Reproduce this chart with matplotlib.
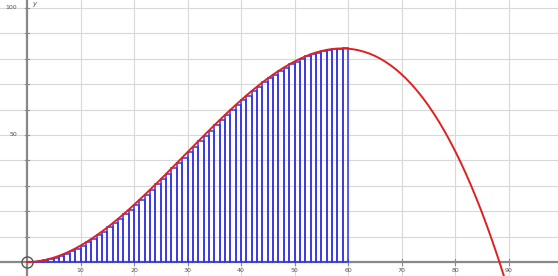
import numpy as np
from matplotlib import pyplot as plt

# red curve at every integer x from 0 to 90
curve_x = list(range(0, 91))
curve_y = [0.0, 0.07, 0.28, 0.63, 1.11, 1.72, 2.44, 3.28, 4.24, 5.29,
           6.45, 7.71, 9.05, 10.49, 12.00, 13.59, 15.25, 16.98, 18.77, 20.61,
           22.51, 24.46, 26.44, 28.46, 30.52, 32.60, 34.70, 36.82, 38.96, 41.09,
           43.24, 45.37, 47.51, 49.62, 51.72, 53.80, 55.85, 57.87, 59.85, 61.79,
           63.68, 65.52, 67.30, 69.02, 70.67, 72.25, 73.75, 75.18, 76.51, 77.75,
           78.90, 79.94, 80.88, 81.71, 82.42, 83.00, 83.47, 83.80, 83.99, 84.04,
           83.95, 83.71, 83.30, 82.74, 82.02, 81.12, 80.04, 78.79, 77.35, 75.72,
           73.89, 71.86, 69.63, 67.18, 64.53, 61.65, 58.54, 55.21, 51.64, 47.83,
           43.77, 39.47, 34.91, 30.09, 25.00, 19.65, 14.02, 8.11, 1.91, -4.57,
           -11.35]

# blue rectangles (lower sum), 60 strips of width 1 on [0, 60]
bar_left = curve_x[:60]
bar_height = curve_y[:60]

x_ticks = [10, 20, 30, 40, 50, 60, 70, 80, 90, 100]
y_ticks = [50, 100]

fig = plt.figure(figsize=(5.58, 2.76), dpi=100)
ax = fig.add_axes([0, 0, 1, 1])
ax.set_xlim(-5.05, 99.25)
ax.set_ylim(-5.5, 103.1)

# grid
for gx in range(10, 100, 10):
    ax.axvline(gx, color='#d8d8d8', lw=0.8, zorder=0)
for gy in range(10, 110, 10):
    ax.axhline(gy, color='#d8d8d8', lw=0.8, zorder=0)

# axes at zero
ax.axhline(0, color='#888888', lw=1.6, zorder=1)
ax.axvline(0, color='#888888', lw=1.6, zorder=1)
for tx in range(10, 100, 10):
    ax.plot([tx, tx], [-1.2, 1.2], color='#888888', lw=0.8, zorder=1)
for ty in range(10, 110, 10):
    ax.plot([-0.4, 0.4], [ty, ty], color='#888888', lw=0.8, zorder=1)

ax.bar(bar_left, bar_height, width=1, align='edge', fill=False,
       edgecolor='#3535e0', linewidth=1.1, zorder=2)
ax.plot(curve_x, curve_y, color='#e02020', lw=1.4, zorder=3)

ax.plot([0], [0], marker='o', ms=8, mfc='none', mec='#555555', mew=1.0, zorder=4, clip_on=False)

for tx in x_ticks:
    ax.text(tx, -2.3, str(tx), fontsize=4.5, color='#555555', ha='center', va='top')
for ty in y_ticks:
    ax.text(-1.8, ty, str(ty), fontsize=4.5, color='#555555', ha='right', va='center')
ax.text(1.0, 101.5, 'y', fontsize=5, color='#555555', ha='left', va='center', style='italic')

ax.axis('off')
fig.savefig('out.png', dpi=100)
